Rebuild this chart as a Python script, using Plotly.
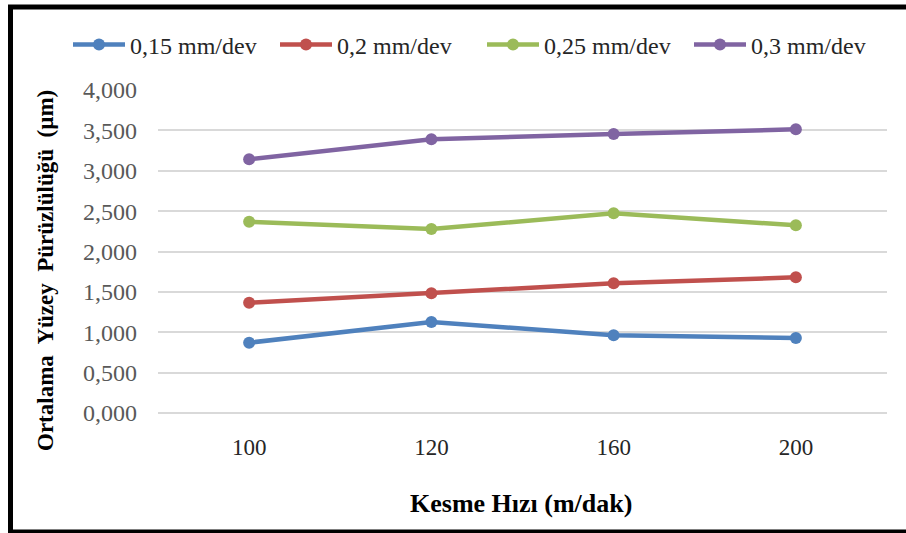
import plotly.graph_objects as go

# Cutting speed categories (m/dak)
speeds = ["100", "120", "160", "200"]

# Mean surface roughness (µm) per feed rate
ra_015 = [0.871, 1.127, 0.962, 0.929]
ra_020 = [1.366, 1.482, 1.606, 1.680]
ra_025 = [2.369, 2.279, 2.473, 2.324]
ra_030 = [3.142, 3.389, 3.455, 3.513]

series_names = ["0,15 mm/dev", "0,2 mm/dev", "0,25 mm/dev", "0,3 mm/dev"]
series_colors = ["#4F81BD", "#C0504D", "#9BBB59", "#8064A2"]
series_values = [ra_015, ra_020, ra_025, ra_030]

SERIF = "Liberation Serif, Times New Roman, serif"

W, H = 906, 533
L, R, T, B = 158, 19, 90, 120
pw, ph = W - L - R, H - T - B


def px_x(x):
    return (x - L) / pw


def px_y(y):
    return (H - B - y) / ph


fig = go.Figure()
for name, color, vals in zip(series_names, series_colors, series_values):
    fig.add_trace(go.Scatter(
        x=speeds, y=vals, name=name, mode="lines+markers",
        line=dict(color=color, width=4.5),
        marker=dict(color=color, size=12),
    ))

fig.update_layout(
    width=W, height=H,
    margin=dict(l=L, r=R, t=T, b=B),
    paper_bgcolor="white", plot_bgcolor="white",
    separators=", ",
    showlegend=True,
    legend=dict(
        orientation="h", x=px_x(68), y=px_y(45), xanchor="left", yanchor="middle",
        font=dict(family=SERIF, size=24, color="#262626"),
        entrywidth=140, entrywidthmode="pixels",
        itemwidth=52, bgcolor="rgba(0,0,0,0)",
    ),
    xaxis=dict(
        type="category", range=[-0.5, 3.5],
        showgrid=False, zeroline=False, showline=False,
        ticks="", ticklabelstandoff=18,
        tickfont=dict(family=SERIF, size=23, color="#262626"),
    ),
    yaxis=dict(
        range=[0, 4000 / 1000], dtick=0.5, tickformat=".3f",
        showgrid=True, gridcolor="#D9D9D9", gridwidth=2,
        zeroline=True, zerolinecolor="#D9D9D9", zerolinewidth=2,
        showline=False, ticks="", ticklabelstandoff=20,
        tickfont=dict(family=SERIF, size=24, color="#595959"),
    ),
    annotations=[
        dict(text="<b>Ortalama  Yüzey  Pürüzlülüğü  (µm)</b>", textangle=-90,
             xref="paper", yref="paper", x=px_x(45), y=px_y(271),
             xanchor="center", yanchor="middle", showarrow=False,
             font=dict(family=SERIF, size=23, color="black")),
        dict(text="<b>Kesme Hızı (m/dak)</b>",
             xref="paper", yref="paper", x=px_x(521), y=px_y(503),
             xanchor="center", yanchor="middle", showarrow=False,
             font=dict(family=SERIF, size=26, color="black")),
    ],
    shapes=[
        dict(type="rect", xref="paper", yref="paper",
             x0=px_x(10.5), x1=px_x(930), y0=px_y(532), y1=px_y(7),
             line=dict(color="black", width=5), layer="above"),
    ],
)

fig.write_html("out.html")
